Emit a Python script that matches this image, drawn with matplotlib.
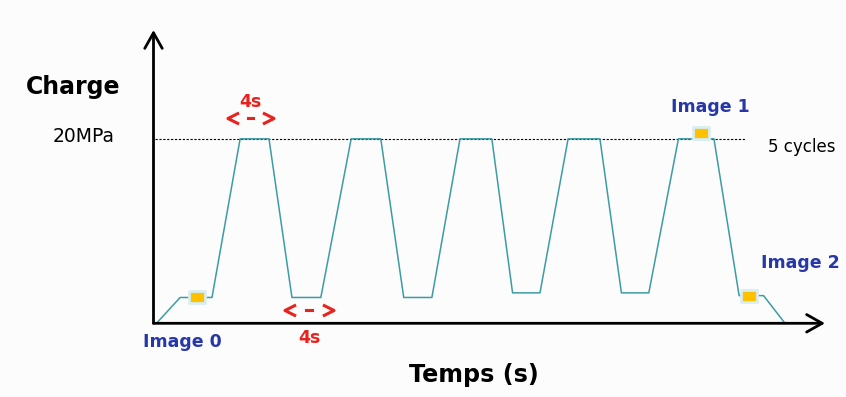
import matplotlib
matplotlib.use("Agg")
import matplotlib.pyplot as plt
from matplotlib.path import Path

# load cycle (time in s, load in MPa)
times = [0.4, 3.6, 7.9, 11.7, 15.6, 18.7, 22.6, 26.7, 30.7, 33.8, 37.6, 41.4,
         45.7, 48.5, 52.2, 56.0, 60.3, 63.2, 66.9, 70.9, 75.7, 79.1, 82.4, 85.3]
loads = [0, 2.8, 2.8, 20, 20, 2.8, 2.8, 20, 20, 2.8, 2.8, 20,
         20, 3.3, 3.3, 20, 20, 3.3, 3.3, 20, 20, 3.0, 3.0, 0]

img_labels = ["Image 0", "Image 1", "Image 2"]
img_t = [5.9, 73.9, 80.4]
img_load = [2.8, 20.6, 3.0]

max_load = 20
ref_end = 80.0
xmax, ymax = 90.7, 31.8

teal = "#3d9ca3"
red = "#e8231e"
blue = "#2638a8"

fig = plt.figure(figsize=(8.46, 3.97), dpi=100)
fig.patch.set_facecolor("#fcfcfc")
ax = fig.add_axes([153.5 / 846, 73.7 / 397, 671.5 / 846, 293.3 / 397])
ax.set_facecolor("none")
ax.set_xlim(0, xmax)
ax.set_ylim(0, ymax)
for s in ax.spines.values():
    s.set_visible(False)
ax.set_xticks([])
ax.set_yticks([])

# axes with open arrow heads
arr = dict(arrowstyle="->,head_length=0.8,head_width=0.45", color="black",
           lw=2, shrinkA=0, shrinkB=0, mutation_scale=14)
ax.annotate("", xy=(xmax, 0), xytext=(0, 0), arrowprops=arr, annotation_clip=False)
ax.annotate("", xy=(0, ymax), xytext=(0, 0), arrowprops=arr, annotation_clip=False)

# 20 MPa reference line
ax.plot([0.2, ref_end], [max_load, max_load], color="black", lw=0.8,
        ls=(0, (2, 1.5)))

ax.plot(times, loads, color=teal, lw=1.1, clip_on=False)

# image capture markers
box = Path([(-1, -0.7), (1, -0.7), (1, 0.7), (-1, 0.7), (-1, -0.7)],
           [Path.MOVETO, Path.LINETO, Path.LINETO, Path.LINETO, Path.CLOSEPOLY])
ax.plot(img_t, img_load, ls="none", marker=box, ms=12, mfc="#ffc000",
        mec="#d8eef2", mew=2, zorder=5, clip_on=False)

img_text_pos = [(3.9, -2.0), (75.2, 23.5), (87.4, 6.5)]
for lab, (tx, ty) in zip(img_labels, img_text_pos):
    ax.text(tx, ty, lab, color=blue, fontsize=12.5, fontweight="bold",
            ha="center", va="center")

ax.text(83.0, 19.1, "5 cycles", fontsize=12, ha="left", va="center")

# 4 s duration marks
left_chev = Path([(1, 1), (-1, 0), (1, -1)], [Path.MOVETO, Path.LINETO, Path.LINETO])
right_chev = Path([(-1, 1), (1, 0), (-1, -1)], [Path.MOVETO, Path.LINETO, Path.LINETO])


def span(x0, x1, y, ty):
    ax.plot([x0], [y], marker=left_chev, ms=8, mfc="none", mec=red,
            mew=2.2, clip_on=False)
    ax.plot([x1], [y], marker=right_chev, ms=8, mfc="none", mec=red,
            mew=2.2, clip_on=False)
    xm = (x0 + x1) / 2
    ax.plot([xm - 0.4, xm + 0.4], [y, y], color=red, lw=2.2, clip_on=False)
    ax.text(xm, ty, "4s", color=red, fontsize=12.5, fontweight="bold",
            ha="center", va="center")


span(10.7, 15.5, 22.25, 24.0)
span(18.4, 23.6, 1.44, -1.6)

ax.text(-10.9, 25.6, "Charge", fontsize=17, fontweight="bold",
        ha="center", va="center")
ax.text(-9.4, 20.2, "20MPa", fontsize=13.5, ha="center", va="center")
ax.text(43.3, -5.6, "Temps (s)", fontsize=17.2, fontweight="bold",
        ha="center", va="center")

fig.savefig("out.png", dpi=100, facecolor=fig.get_facecolor())
